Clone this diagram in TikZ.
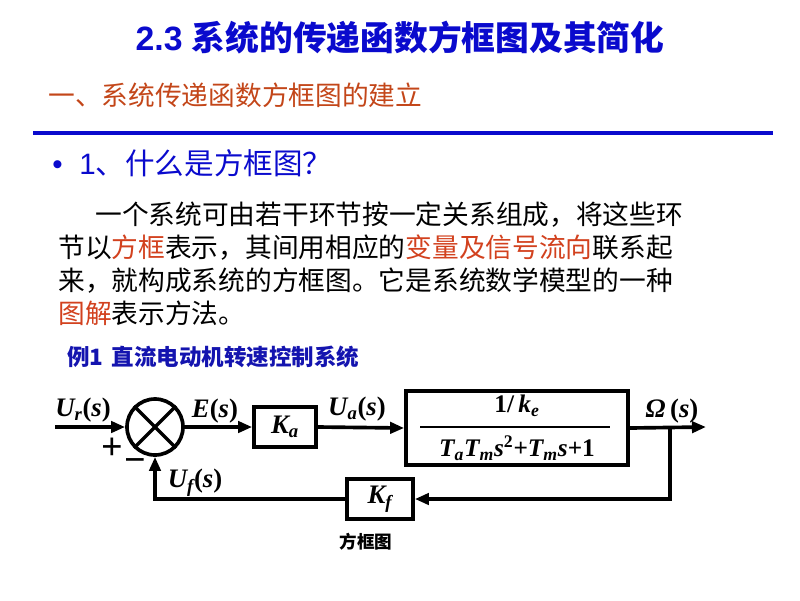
\documentclass[tikz,border=0pt]{standalone}
\usepackage{fontspec}
\setmainfont{Liberation Serif}
\newfontfamily\cjk{Noto Sans CJK SC}
\newfontfamily\hd{Liberation Sans}
\usepackage{tikz}
\usetikzlibrary{arrows.meta}

\definecolor{titleblue}{RGB}{10,10,205}
\definecolor{subred}{RGB}{195,70,25}
\definecolor{hlred}{RGB}{210,65,30}
\definecolor{exblue}{RGB}{20,20,175}

\begin{document}
\begin{tikzpicture}[x=0.025cm,y=-0.025cm,>={Triangle[length=10pt,width=8pt]}]
 \tikzstyle{block} = [draw=black,line width=2.6pt,inner sep=0pt]
 \tikzstyle{sig} = [line width=2.6pt]
 \tikzstyle{lbl} = [font=\fontsize{19pt}{19pt}\selectfont\bfseries\itshape,inner sep=1pt]
 \tikzstyle{sign} = [font=\fontsize{27pt}{27pt}\selectfont\bfseries,inner sep=0pt]
 \newcommand{\fsz}[1]{\fontsize{#1}{#1}\selectfont}
 \newcommand{\hl}[1]{\textcolor{hlred}{#1}}

 \useasboundingbox (0,0) rectangle (800,600);

 % Heading
 \node[titleblue] (title) at (400,38) {{\hd\fsz{24pt}\bfseries 2.3 }{\cjk\fsz{24pt}\bfseries 系统的传递函数方框图及其简化}};
 \node[subred,anchor=west,inner sep=0pt] (sub) at (48,95) {\cjk\fsz{19pt}一、系统传递函数方框图的建立};
 \coordinate (r1) at (33,133);
 \coordinate (r2) at (773,133);
 \draw[titleblue,line width=2.2pt] (r1) -- (r2);
 \node[titleblue,anchor=west,inner sep=0pt] (q) at (52,163) {{\hd\fsz{21pt}\textbullet\hspace{12pt}1}{\cjk\fsz{21pt}、什么是方框图？}};

 % Paragraph
 \node[anchor=west,inner sep=0pt] (p1) at (95,215) {\cjk\fsz{19pt}一个系统可由若干环节按一定关系组成，将这些环};
 \node[anchor=west,inner sep=0pt] (p2) at (58,248) {\cjk\fsz{19pt}节以\hl{方框}表示，其间用相应的\hl{变量及信号流向}联系起};
 \node[anchor=west,inner sep=0pt] (p3) at (58,281) {\cjk\fsz{19pt}来，就构成系统的方框图。它是系统数学模型的一种};
 \node[anchor=west,inner sep=0pt] (p4) at (58,313) {\cjk\fsz{19pt}\hl{图解}表示方法。};
 \node[exblue,anchor=west,inner sep=0pt] (ex) at (67,357) {\cjk\fsz{16pt}\bfseries 例1\hspace{6pt}直流电动机转速控制系统};

 % Blocks
 \node[draw=black,line width=2.6pt,circle,minimum size=1.4cm,inner sep=0pt] (sum) at (155,427) {};
 \draw[line width=2.4pt] (sum.45) -- (sum.225);
 \draw[line width=2.4pt] (sum.135) -- (sum.315);
 \node[block,minimum width=1.55cm,minimum height=1cm] (ka) at (285,427) {};
 \node[lbl] at (ka) {K\textsubscript{a}};
 \node[block,minimum width=5.55cm,minimum height=1.85cm] (plant) at (517,428) {};
 \node[block,minimum width=1.65cm,minimum height=1cm] (kf) at (380,499) {};
 \node[lbl] at (kf) {K\textsubscript{f}};

 % Fraction
 \coordinate (f1) at (420,427);
 \coordinate (f2) at (610,427);
 \draw[line width=2pt] (f1) -- (f2);
 \node[lbl,font=\fontsize{18pt}{18pt}\selectfont\bfseries] (num) at (517,406) {1/\,\textit{k\textsubscript{e}}};
 \node[lbl,font=\fontsize{18pt}{18pt}\selectfont\bfseries\itshape] (den) at (517,448) {T\textsubscript{a}T\textsubscript{m}s\textsuperscript{\upshape 2}\upshape+\itshape T\textsubscript{m}s\upshape+1};

 % Signals
 \coordinate (in) at (55,427);
 \coordinate (out) at (706,427);
 \coordinate (br) at (670,427);
 \draw[sig,->] (in) -- (sum.west);
 \draw[sig,->] (sum.east) -- (ka.west);
 \draw[sig,->] (ka.east) -- (plant.west);
 \draw[sig,->] (plant.east) -- (out);
 \draw[sig,->] (br) |- (kf.east);
 \draw[sig,->] (kf.west) -| (sum.south);

 % Labels
 \node[lbl] (ur) at (83,410) {U\textsubscript{r}\upshape(\itshape s\upshape)};
 \node[lbl] (es) at (215,411) {E\upshape(\itshape s\upshape)};
 \node[lbl] (ua) at (357,409) {U\textsubscript{a}\upshape(\itshape s\upshape)};
 \node[lbl] (om) at (672,411) {\textit{Ω}\,\upshape(\itshape s\upshape)};
 \node[lbl] (uf) at (195,483) {U\textsubscript{f}\upshape(\itshape s\upshape)};
 \node[sign] (plus) at (112,449) {+};
 \node[sign] (minus) at (135,466) {−};

 \node (cap) at (366,542) {\cjk\fsz{12.5pt}\bfseries 方框图};

\end{tikzpicture}
\end{document}
